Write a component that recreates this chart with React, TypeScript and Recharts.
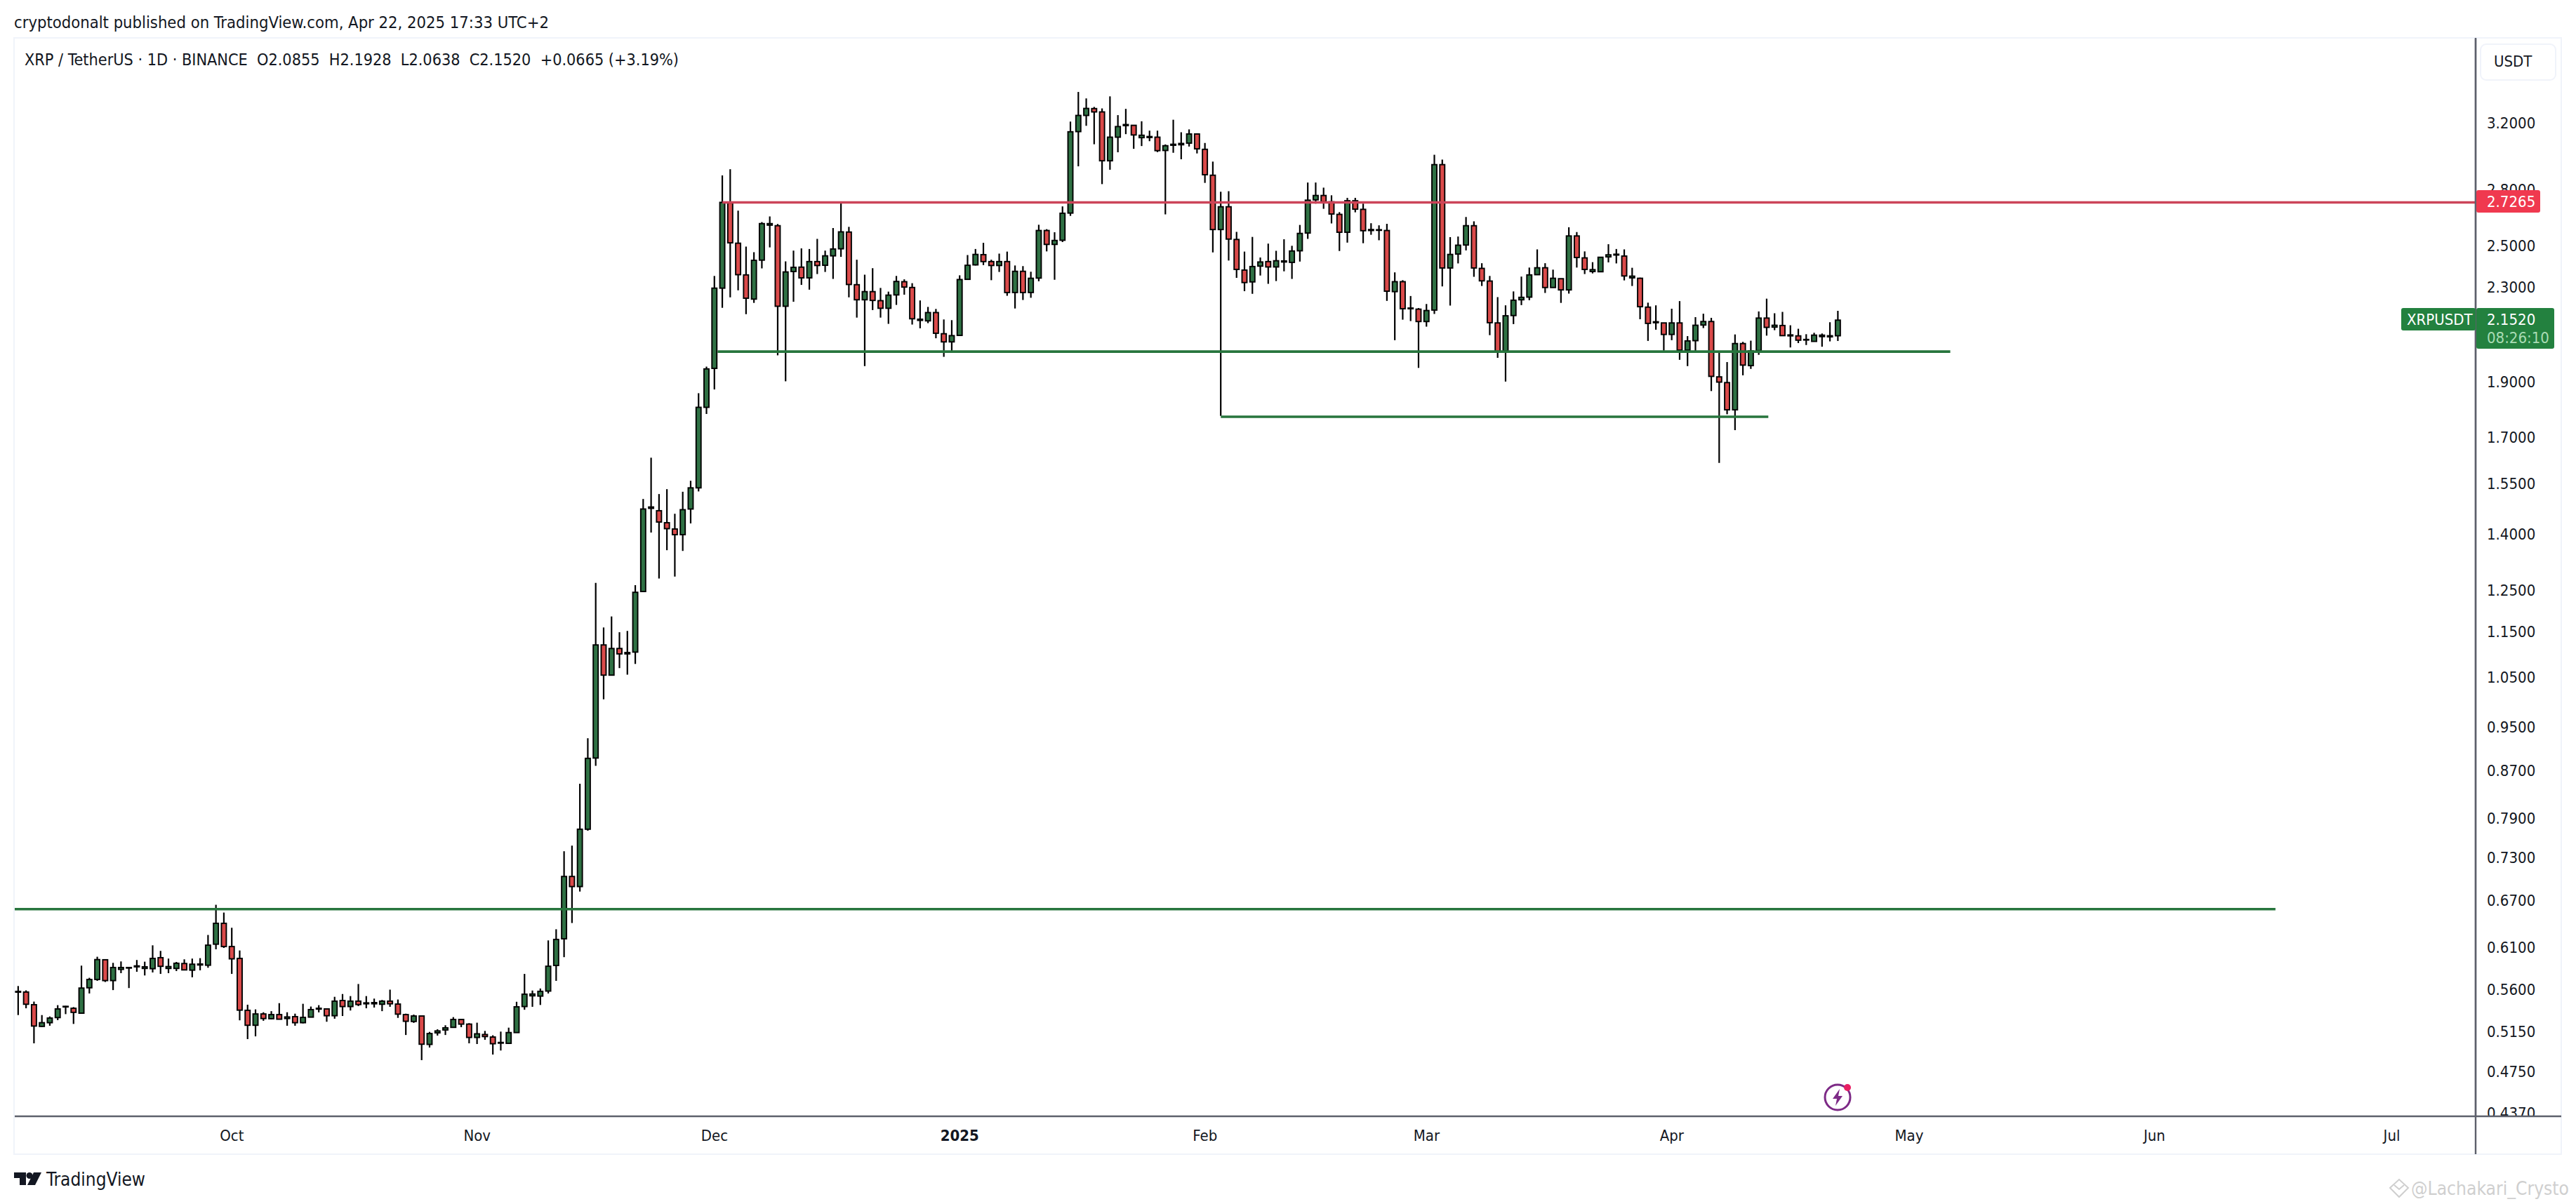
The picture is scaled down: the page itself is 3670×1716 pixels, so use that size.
import React from "react";
import { ComposedChart, Bar, Line, XAxis, YAxis } from "recharts";

const FONT = "'DejaVu Sans Condensed', 'DejaVu Sans', sans-serif";
const TEXT = "#131722";
const AXIS = "#5d606b";
const FRAME = "#f0f3fa";
const GREEN_BODY = "#2f7144";
const RED_BODY = "#da4a4a";

// daily candles, first one is Sep 4 2024, last one is Apr 22 2025
const opens = [
  0.558, 0.5573, 0.5433, 0.5201, 0.524, 0.5294, 0.5412, 0.5394, 0.5341, 0.5621,
  0.5716, 0.5947, 0.5703, 0.5833, 0.5855, 0.5863, 0.5844, 0.5841, 0.5972, 0.5844,
  0.5844, 0.5902, 0.5824, 0.5885, 0.5882, 0.6136, 0.6399, 0.6107, 0.5963, 0.5372,
  0.5213, 0.5333, 0.5282, 0.5326, 0.5284, 0.5304, 0.524, 0.5299, 0.5385, 0.5387,
  0.5314, 0.5479, 0.5413, 0.5472, 0.5443, 0.5443, 0.5438, 0.5472, 0.544, 0.5326,
  0.5253, 0.5311, 0.5016, 0.5134, 0.5164, 0.5191, 0.5274, 0.5225, 0.5087, 0.5117,
  0.5091, 0.5029, 0.5027, 0.5137, 0.5413, 0.5531, 0.5528, 0.5584, 0.5879, 0.6203,
  0.7031, 0.689, 0.7732, 0.8922, 1.12, 1.054, 1.112, 1.103, 1.104, 1.247,
  1.478, 1.467, 1.432, 1.414, 1.398, 1.472, 1.536, 1.806, 1.953, 2.295,
  2.724, 2.512, 2.357, 2.245, 2.428, 2.605, 2.602, 2.213, 2.373, 2.394,
  2.343, 2.421, 2.403, 2.449, 2.484, 2.569, 2.311, 2.242, 2.279, 2.238,
  2.204, 2.264, 2.325, 2.298, 2.151, 2.149, 2.185, 2.094, 2.06, 2.087,
  2.336, 2.405, 2.455, 2.421, 2.402, 2.421, 2.275, 2.374, 2.275, 2.342,
  2.577, 2.506, 2.527, 2.669, 3.144, 3.248, 3.293, 3.271, 2.965, 3.109,
  3.182, 3.184, 3.106, 3.107, 3.109, 3.027, 3.059, 3.062, 3.072, 3.129,
  3.034, 2.88, 2.582, 2.703, 2.531, 2.38, 2.324, 2.399, 2.421, 2.395,
  2.419, 2.417, 2.474, 2.564, 2.741, 2.765, 2.73, 2.662, 2.568, 2.736,
  2.689, 2.577, 2.578, 2.577, 2.279, 2.325, 2.202, 2.2, 2.146, 2.196,
  2.942, 2.39, 2.458, 2.503, 2.602, 2.388, 2.328, 2.14, 2.022, 2.172,
  2.242, 2.254, 2.358, 2.391, 2.298, 2.339, 2.287, 2.549, 2.439, 2.373,
  2.372, 2.444, 2.453, 2.448, 2.343, 2.341, 2.209, 2.141, 2.14, 2.091,
  2.14, 2.026, 2.065, 2.131, 2.146, 1.92, 1.898, 1.797, 2.053, 1.964,
  2.024, 2.161, 2.122, 2.129, 2.085, 2.085, 2.068, 2.062, 2.082, 2.081,
  2.0855,
];

const highs = [
  0.5641, 0.5592, 0.5467, 0.5321, 0.5306, 0.5428, 0.542, 0.5407, 0.5877, 0.5735,
  0.5983, 0.5952, 0.591, 0.5927, 0.5858, 0.5944, 0.5924, 0.6122, 0.6054, 0.5961,
  0.5921, 0.5952, 0.5961, 0.5966, 0.6251, 0.6642, 0.6539, 0.6342, 0.6059, 0.5433,
  0.5382, 0.5351, 0.5363, 0.545, 0.5351, 0.5336, 0.5443, 0.5413, 0.5428, 0.539,
  0.552, 0.5551, 0.5528, 0.5664, 0.5528, 0.55, 0.5485, 0.56, 0.549, 0.5336,
  0.5326, 0.5311, 0.5144, 0.5171, 0.5213, 0.5299, 0.5276, 0.5235, 0.524, 0.5154,
  0.5109, 0.5147, 0.5188, 0.5465, 0.578, 0.559, 0.5613, 0.6183, 0.6323, 0.7397,
  0.7481, 0.8472, 0.9284, 1.269, 1.16, 1.186, 1.149, 1.152, 1.263, 1.502,
  1.632, 1.517, 1.532, 1.458, 1.524, 1.558, 1.858, 1.96, 2.352, 2.879,
  2.915, 2.682, 2.495, 2.467, 2.621, 2.651, 2.611, 2.422, 2.475, 2.486,
  2.483, 2.534, 2.475, 2.59, 2.73, 2.596, 2.43, 2.358, 2.389, 2.296,
  2.279, 2.352, 2.336, 2.318, 2.239, 2.21, 2.201, 2.155, 2.152, 2.355,
  2.453, 2.483, 2.514, 2.43, 2.46, 2.47, 2.402, 2.399, 2.372, 2.607,
  2.584, 2.568, 2.705, 3.208, 3.405, 3.361, 3.304, 3.294, 3.375, 3.25,
  3.291, 3.184, 3.21, 3.15, 3.15, 3.064, 3.22, 3.14, 3.158, 3.133,
  3.073, 2.96, 2.786, 2.789, 2.57, 2.47, 2.544, 2.441, 2.51, 2.474,
  2.532, 2.499, 2.606, 2.838, 2.838, 2.809, 2.766, 2.674, 2.752, 2.752,
  2.72, 2.615, 2.604, 2.612, 2.369, 2.332, 2.259, 2.205, 2.223, 3.001,
  2.972, 2.543, 2.546, 2.648, 2.625, 2.413, 2.352, 2.254, 2.217, 2.28,
  2.349, 2.392, 2.481, 2.413, 2.382, 2.339, 2.594, 2.569, 2.471, 2.418,
  2.443, 2.507, 2.483, 2.481, 2.391, 2.344, 2.229, 2.217, 2.14, 2.202,
  2.236, 2.084, 2.165, 2.18, 2.162, 2.015, 1.978, 2.091, 2.06, 2.065,
  2.19, 2.247, 2.182, 2.188, 2.13, 2.115, 2.092, 2.098, 2.095, 2.143,
  2.1928,
];

const lows = [
  0.5321, 0.5394, 0.5027, 0.5196, 0.5208, 0.5267, 0.5331, 0.5227, 0.5336, 0.5557,
  0.57, 0.5687, 0.5595, 0.5789, 0.5618, 0.5805, 0.5762, 0.5797, 0.578, 0.5789,
  0.5813, 0.5822, 0.5741, 0.5822, 0.5852, 0.6073, 0.609, 0.578, 0.5265, 0.507,
  0.5098, 0.526, 0.5275, 0.5275, 0.5208, 0.5208, 0.5233, 0.5298, 0.535, 0.525,
  0.5282, 0.5311, 0.537, 0.5418, 0.5394, 0.5402, 0.5363, 0.541, 0.5291, 0.5112,
  0.5238, 0.486, 0.4985, 0.5106, 0.5112, 0.5186, 0.5193, 0.5027, 0.502, 0.5063,
  0.4915, 0.4955, 0.5022, 0.5136, 0.5378, 0.541, 0.543, 0.5557, 0.57, 0.5978,
  0.6403, 0.6821, 0.7709, 0.8783, 1.004, 1.053, 1.069, 1.055, 1.078, 1.246,
  1.404, 1.28, 1.355, 1.285, 1.353, 1.43, 1.525, 1.782, 1.872, 2.206,
  2.253, 2.285, 2.178, 2.228, 2.388, 2.491, 2.005, 1.903, 2.233, 2.31,
  2.288, 2.361, 2.371, 2.338, 2.444, 2.253, 2.163, 1.962, 2.196, 2.163,
  2.136, 2.219, 2.265, 2.133, 2.117, 2.139, 2.075, 1.999, 2.015, 2.086,
  2.335, 2.402, 2.404, 2.332, 2.371, 2.26, 2.203, 2.241, 2.251, 2.327,
  2.471, 2.334, 2.518, 2.654, 2.932, 3.181, 3.065, 2.829, 2.912, 3.016,
  3.128, 3.037, 3.054, 3.084, 3.017, 2.662, 3.013, 2.974, 3.051, 3.009,
  2.836, 2.466, 1.775, 2.426, 2.343, 2.281, 2.269, 2.354, 2.315, 2.328,
  2.374, 2.338, 2.421, 2.534, 2.72, 2.692, 2.614, 2.473, 2.515, 2.673,
  2.512, 2.555, 2.527, 2.237, 2.067, 2.154, 2.148, 1.955, 2.124, 2.179,
  2.303, 2.216, 2.412, 2.476, 2.348, 2.305, 2.088, 1.995, 1.902, 2.135,
  2.218, 2.24, 2.358, 2.273, 2.297, 2.228, 2.27, 2.392, 2.361, 2.364,
  2.371, 2.417, 2.412, 2.331, 2.305, 2.156, 2.064, 2.111, 2.024, 2.067,
  1.987, 1.962, 2.018, 2.118, 1.866, 1.615, 1.781, 1.725, 1.926, 1.951,
  2.007, 2.086, 2.109, 2.086, 2.037, 2.055, 2.047, 2.061, 2.04, 2.062,
  2.0638,
];

const closes = [
  0.5572, 0.5438, 0.5205, 0.524, 0.5289, 0.5387, 0.5415, 0.535, 0.5618, 0.5716,
  0.5949, 0.5703, 0.5855, 0.5855, 0.5852, 0.5874, 0.5863, 0.5963, 0.5869, 0.5866,
  0.5905, 0.5827, 0.5894, 0.5896, 0.6124, 0.6399, 0.6107, 0.5958, 0.5374, 0.5213,
  0.5333, 0.5284, 0.5326, 0.5277, 0.5301, 0.524, 0.5296, 0.538, 0.5394, 0.5314,
  0.5472, 0.5413, 0.5472, 0.5435, 0.5453, 0.5456, 0.5472, 0.5443, 0.5331, 0.5255,
  0.5311, 0.5018, 0.5127, 0.5154, 0.5186, 0.5274, 0.5225, 0.5087, 0.5124, 0.5096,
  0.5023, 0.5036, 0.5137, 0.541, 0.5549, 0.5551, 0.5581, 0.587, 0.6195, 0.7031,
  0.689, 0.7732, 0.8916, 1.12, 1.054, 1.112, 1.1, 1.1, 1.245, 1.472,
  1.474, 1.434, 1.415, 1.398, 1.47, 1.536, 1.806, 1.951, 2.295, 2.727,
  2.514, 2.358, 2.249, 2.427, 2.613, 2.613, 2.213, 2.371, 2.393, 2.343,
  2.421, 2.402, 2.449, 2.483, 2.57, 2.312, 2.242, 2.279, 2.239, 2.204,
  2.263, 2.326, 2.3, 2.158, 2.156, 2.185, 2.096, 2.06, 2.086, 2.335,
  2.403, 2.456, 2.421, 2.402, 2.421, 2.275, 2.374, 2.275, 2.341, 2.577,
  2.506, 2.526, 2.668, 3.143, 3.248, 3.294, 3.271, 2.965, 3.109, 3.176,
  3.189, 3.123, 3.121, 3.113, 3.026, 3.056, 3.065, 3.07, 3.129, 3.037,
  2.883, 2.582, 2.703, 2.533, 2.383, 2.321, 2.397, 2.419, 2.395, 2.425,
  2.424, 2.473, 2.562, 2.739, 2.765, 2.73, 2.664, 2.568, 2.736, 2.69,
  2.576, 2.582, 2.581, 2.281, 2.325, 2.202, 2.205, 2.146, 2.194, 2.942,
  2.39, 2.456, 2.502, 2.602, 2.39, 2.329, 2.141, 2.021, 2.171, 2.24,
  2.253, 2.357, 2.391, 2.298, 2.341, 2.287, 2.549, 2.441, 2.383, 2.382,
  2.442, 2.454, 2.457, 2.352, 2.351, 2.211, 2.138, 2.145, 2.091, 2.14,
  2.026, 2.064, 2.13, 2.146, 1.922, 1.9, 1.797, 2.053, 1.966, 2.023,
  2.161, 2.121, 2.13, 2.086, 2.089, 2.067, 2.07, 2.088, 2.088, 2.0855,
  2.152,
];

const priceTicks = [
  3.2, 2.8, 2.5, 2.3, 1.9, 1.7, 1.55, 1.4, 1.25, 1.15, 1.05, 0.95, 0.87, 0.79, 0.73, 0.67, 0.61, 0.56, 0.515,
  0.475, 0.437,
];
const monthTicks = [27, 58, 88, 119, 150, 178, 209, 239, 270, 300];
const monthLabels = ["Oct", "Nov", "Dec", "2025", "Feb", "Mar", "Apr", "May", "Jun", "Jul"];

// horizontal levels drawn on the chart, x in days from the first candle
const levelPrices = [2.7265, 2.02, 1.772, 0.6584];
const levelStarts = [89, 88.4, 152, -0.53];
const levelEnds = [310.6, 244.2, 221.2, 285.3];
const levelColors = ["#cc4459", "#27753d", "#27753d", "#27753d"];

const candles = opens.map((open, i) => ({
  i,
  open,
  high: highs[i],
  low: lows[i],
  close: closes[i],
  range: [lows[i], highs[i]],
}));

const Candle = (props: any) => {
  const { x, y, width, height, payload } = props;
  const { open, high, low, close } = payload;
  const cx = x + width / 2;
  // the bar spans low..high on the log axis, so body edges sit proportionally in log space
  const perLog = height / (Math.log(high) - Math.log(low));
  const yOf = (p: number) => y + (Math.log(high) - Math.log(p)) * perLog;
  const top = yOf(Math.max(open, close));
  const bottom = yOf(Math.min(open, close));
  return (
    <g>
      <line x1={cx} x2={cx} y1={y} y2={y + height} stroke="#000" strokeWidth={2.2} />
      <rect
        x={cx - 3.5}
        y={top}
        width={7}
        height={Math.max(bottom - top, 0.8)}
        fill={close >= open ? GREEN_BODY : RED_BODY}
        stroke="#000"
        strokeWidth={1.9}
      />
    </g>
  );
};

const MonthTick = (props: any) => {
  const { x, y, payload } = props;
  const label = monthLabels[monthTicks.indexOf(payload.value)];
  return (
    <text
      x={x}
      y={y + 35}
      textAnchor="middle"
      fontFamily={FONT}
      fontSize={22}
      fontWeight={label === "2025" ? 700 : 400}
      fill={TEXT}
    >
      {label}
    </text>
  );
};

const Overlay = () => (
  <svg
    width={3670}
    height={1716}
    style={{ position: "absolute", left: 0, top: 0, pointerEvents: "none" }}
    fontFamily={FONT}
  >
    <rect x={20} y={54} width={3629} height={1591} fill="none" stroke={FRAME} strokeWidth={2} />
    {/* lower tick label is cut off by the time axis */}
    <rect x={3529} y={1592} width={119} height={52} fill="#fff" />
    <line x1={3527} x2={3649} y1={1591} y2={1591} stroke={AXIS} strokeWidth={2.4} />
    <line x1={3527} x2={3527} y1={54} y2={1645} stroke={AXIS} strokeWidth={2.4} />

    <text x={20} y={40} fontSize={23} fill={TEXT} textLength={762} lengthAdjust="spacingAndGlyphs">
      cryptodonalt published on TradingView.com, Apr 22, 2025 17:33 UTC+2
    </text>
    <text
      x={35}
      y={93}
      fontSize={23}
      fill={TEXT}
      textLength={932}
      lengthAdjust="spacingAndGlyphs"
      style={{ whiteSpace: "pre" }}
    >
      {"XRP / TetherUS · 1D · BINANCE  O2.0855  H2.1928  L2.0638  C2.1520  +0.0665 (+3.19%)"}
    </text>

    <rect x={3534} y={63} width={107} height={51} rx={8} fill="#fff" stroke={FRAME} strokeWidth={2} />
    <text x={3553} y={95} fontSize={22} fill={TEXT}>
      USDT
    </text>

    <rect x={3528} y={271} width={91} height={32} rx={3} fill="#f0394f" />
    <text x={3543} y={295} fontSize={22} fill="#fff">
      2.7265
    </text>

    <rect x={3421} y={439} width={106} height={32} rx={3} fill="#23813f" />
    <text x={3429} y={463} fontSize={22} fill="#fff">
      XRPUSDT
    </text>
    <rect x={3528} y={439} width={111} height={58} rx={3} fill="#23813f" />
    <text x={3543} y={463} fontSize={22} fill="#fff">
      2.1520
    </text>
    <text x={3543} y={489} fontSize={22} fill="#a9dcb4">
      08:26:10
    </text>

    {/* bolt badge */}
    <circle cx={2618} cy={1564} r={18} fill="#fff" stroke="#7d2a86" strokeWidth={3} />
    <path d="M2621 1552 L2611 1566 L2617 1566 L2615 1576 L2625 1562 L2619 1562 Z" fill="#7d2a86" />
    <circle cx={2632} cy={1550} r={5} fill="#e91e63" />

    {/* TradingView logo */}
    <path d="M20 1671 H37 V1689 H28 V1679 H20 Z" fill={TEXT} />
    <circle cx={42} cy={1675.5} r={4.5} fill={TEXT} />
    <path d="M48 1671 H59 L50 1689 H39 Z" fill={TEXT} />
    <text x={66} y={1690} fontSize={26} fill={TEXT} textLength={141} lengthAdjust="spacingAndGlyphs">
      TradingView
    </text>

    {/* watermark */}
    <path d="M3405 1693 L3418 1681 L3431 1693 L3418 1706 Z" fill="none" stroke="#cfcfcf" strokeWidth={2} />
    <path d="M3411 1689 L3418 1695 L3425 1689" fill="none" stroke="#cfcfcf" strokeWidth={2} />
    <text x={3435} y={1703} fontSize={26} fill="#cfcfcf" textLength={225} lengthAdjust="spacingAndGlyphs">
      @Lachakari_Crysto
    </text>
  </svg>
);

const App = () => {
  return (
    <div style={{ position: "absolute", left: 0, top: 0, width: 3670, height: 1716, background: "#fff" }}>
      <ComposedChart
        width={3670}
        height={1716}
        data={candles}
        margin={{ top: 54, right: 21, bottom: 71, left: 20 }}
      >
        <XAxis
          dataKey="i"
          type="number"
          scale="linear"
          domain={[-0.53, 310.6]}
          allowDataOverflow
          ticks={monthTicks}
          interval={0}
          height={54}
          tickLine={false}
          tickSize={0}
          tickMargin={0}
          axisLine={{ stroke: AXIS, strokeWidth: 2.4 }}
          tick={<MonthTick />}
        />
        <YAxis
          orientation="right"
          scale="log"
          domain={[0.4341, 3.796]}
          allowDataOverflow
          ticks={priceTicks}
          interval={0}
          width={122}
          tickLine={false}
          tickSize={0}
          tickMargin={16}
          axisLine={{ stroke: AXIS, strokeWidth: 2.4 }}
          tick={{ fontFamily: FONT, fontSize: 22, fill: TEXT }}
          tickFormatter={(v: number) => v.toFixed(4)}
        />
        {levelPrices.map((price, k) => (
          <Line
            key={k}
            data={[
              { i: levelStarts[k], level: price },
              { i: levelEnds[k], level: price },
            ]}
            dataKey="level"
            stroke={levelColors[k]}
            strokeWidth={3.6}
            dot={false}
            activeDot={false}
            legendType="none"
            isAnimationActive={false}
          />
        ))}
        <Bar dataKey="range" barSize={8} shape={<Candle />} isAnimationActive={false} />
      </ComposedChart>
      <Overlay />
    </div>
  );
};

export default App;
